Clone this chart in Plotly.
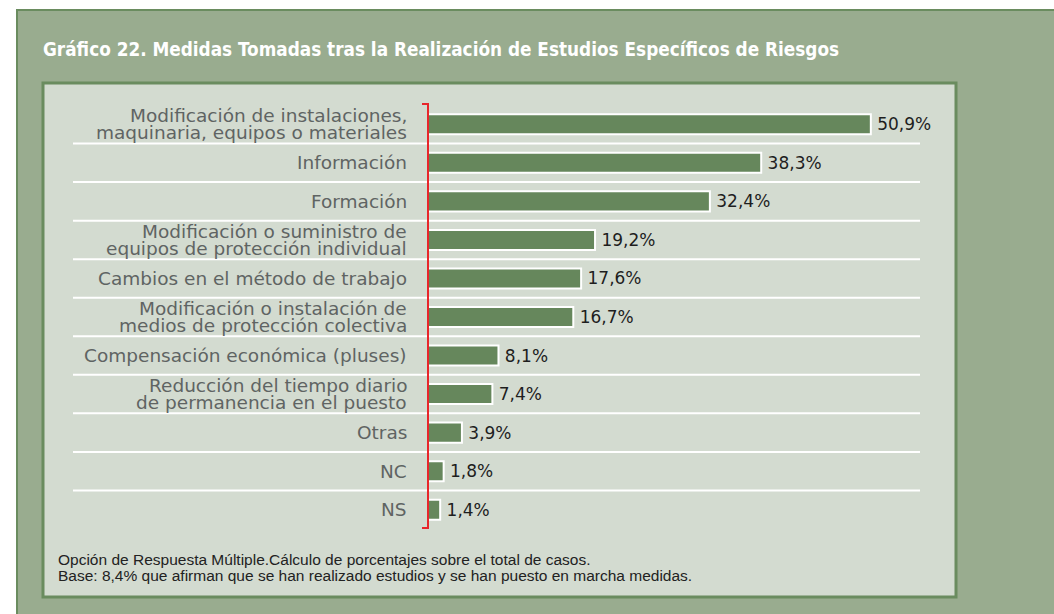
import plotly.graph_objects as go

# ---- data ----
categories = [
    "Modificación de instalaciones,\nmaquinaria, equipos o materiales",
    "Información",
    "Formación",
    "Modificación o suministro de\nequipos de protección individual",
    "Cambios en el método de trabajo",
    "Modificación o instalación de\nmedios de protección colectiva",
    "Compensación económica (pluses)",
    "Reducción del tiempo diario\nde permanencia en el puesto",
    "Otras",
    "NC",
    "NS",
]
values = [50.9, 38.3, 32.4, 19.2, 17.6, 16.7, 8.1, 7.4, 3.9, 1.8, 1.4]
value_labels = [f"{v:.1f}".replace(".", ",") + "%" for v in values]

title_text = "Gráfico 22. Medidas Tomadas tras la Realización de Estudios Específicos de Riesgos"
note_lines = [
    "Opción de Respuesta Múltiple.Cálculo de porcentajes sobre el total de casos.",
    "Base: 8,4% que afirman que se han realizado estudios y se han puesto en marcha medidas.",
]

# ---- layout geometry (pixels) ----
FW, FH = 1054, 614
L, R_, T, B = 428, 104, 105, 85
PW = FW - L - R_
PH = FH - T - B


def px(xp):
    return (xp - L) / PW


def py(yp):
    return (FH - B - yp) / PH


OUTER_FILL = "#99ac8f"
DARK_GREEN = "#6a8c5f"
INNER_FILL = "#d3dbd0"
BAR_FILL = "#66875c"
RED = "#e8262b"
LABEL_GRAY = "#5f6463"

cat_keys = [c.replace("\n", " ") for c in categories]

fig = go.Figure()
fig.add_trace(
    go.Bar(
        x=values,
        y=cat_keys,
        orientation="h",
        marker=dict(color=BAR_FILL, line=dict(color="white", width=2)),
        text=value_labels,
        texttemplate="\u2009%{text}",
        textposition="outside",
        textfont=dict(family="DejaVu Sans", size=17, color="#1e1e1e"),
        cliponaxis=False,
        hoverinfo="skip",
    )
)

shapes = [
    dict(type="rect", xref="paper", yref="paper", x0=px(17), x1=px(1070), y0=py(10), y1=py(630),
         fillcolor=OUTER_FILL, line=dict(color=DARK_GREEN, width=2), layer="below"),
    dict(type="rect", xref="paper", yref="paper", x0=px(43), x1=px(956), y0=py(83), y1=py(597),
         fillcolor=INNER_FILL, line=dict(color=DARK_GREEN, width=3), layer="below"),
]
for i in range(len(categories) - 1):
    shapes.append(dict(type="line", xref="paper", yref="y", x0=px(73), x1=px(920), y0=i + 0.5, y1=i + 0.5,
                       line=dict(color="white", width=2), layer="below"))
# red bracket axis
shapes.append(dict(type="path", xref="paper", yref="paper",
                   path=f"M {px(422)} {py(104)} L {px(428)} {py(104)} L {px(428)} {py(528)} L {px(422)} {py(528)}",
                   line=dict(color=RED, width=2), layer="above"))

annotations = []
LINE_GAP = 17
for i, c in enumerate(categories):
    lines = c.split("\n")
    n = len(lines)
    for j, ln in enumerate(lines):
        shift = (n - 1) / 2 * LINE_GAP - j * LINE_GAP
        annotations.append(dict(text=ln, xref="paper", yref="y", x=px(409), y=i, yshift=shift,
                                xanchor="right", yanchor="middle", showarrow=False,
                                font=dict(family="DejaVu Sans", size=18.5, color=LABEL_GRAY)))

annotations.append(dict(text=title_text, xref="paper", yref="paper", x=px(41), y=py(50),
                        xanchor="left", yanchor="middle", showarrow=False,
                        font=dict(family="DejaVu Sans Condensed", size=18.8, color="white", weight=700)))
for j, ln in enumerate(note_lines):
    annotations.append(dict(text=ln, xref="paper", yref="paper", x=px(56), y=py(559 + j * 16),
                            xanchor="left", yanchor="middle", showarrow=False,
                            font=dict(family="Liberation Sans", size=15.5, color="#222222")))

fig.update_layout(
    width=FW, height=FH,
    margin=dict(l=L, r=R_, t=T, b=B, pad=0),
    paper_bgcolor="white",
    plot_bgcolor="rgba(0,0,0,0)",
    showlegend=False,
    bargap=0.48,
    shapes=shapes,
    annotations=annotations,
    xaxis=dict(range=[0, 60], visible=False, fixedrange=True),
    yaxis=dict(categoryorder="array", categoryarray=cat_keys, range=[len(cat_keys) - 0.5, -0.5],
               showticklabels=False, showgrid=False, zeroline=False, showline=False, ticks="",
               fixedrange=True),
)

fig.write_html("out.html", config={"displayModeBar": False},
               post_script="document.body.style.margin='0';document.body.style.padding='0';")
